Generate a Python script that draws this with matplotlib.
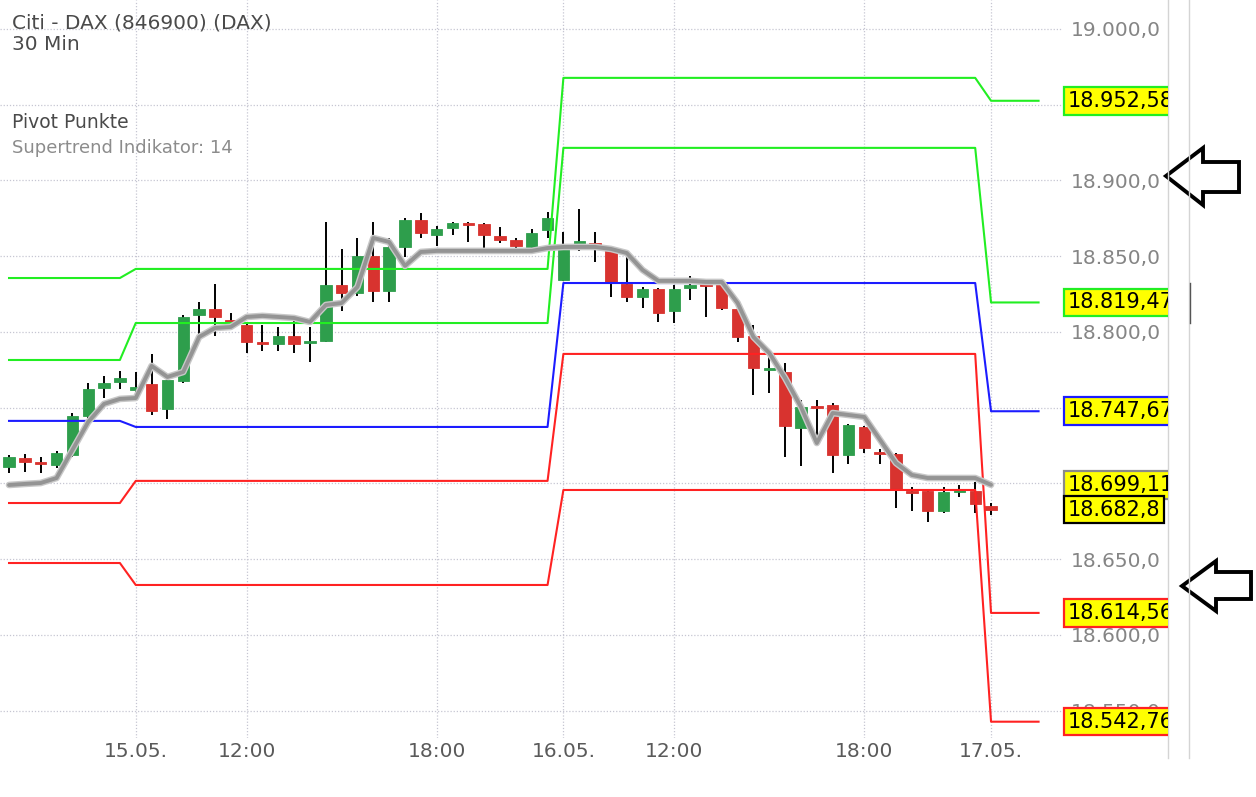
import matplotlib
matplotlib.use('Agg')

import matplotlib.pyplot as plt
import matplotlib.ticker as ticker
import numpy as np
from matplotlib.lines import Line2D
from matplotlib.patches import Polygon
from matplotlib.transforms import (Affine2D, Bbox, TransformedBbox,
                                   ScaledTranslation, blended_transform_factory)

plt.rcParams['font.family'] = ['DejaVu Sans']

W, H = 1256, 797

title = 'Citi - DAX (846900) (DAX)'
interval = '30 Min'
indicators = ['Pivot Punkte', 'Supertrend Indikator: 14']

# 30 min candles (14.05. late session -> 17.05. first bar)
opens = [18710.9, 18716.8, 18714.2, 18712.2, 18718.8, 18744.6, 18763.0, 18767.0, 18761.7, 18765.7,
         18749.2, 18767.7, 18811.2, 18815.2, 18807.9, 18804.6, 18793.4, 18792.1, 18797.4, 18792.7,
         18794.1, 18831.0, 18825.7, 18850.2, 18827.1, 18856.1, 18873.9, 18864.0, 18868.6, 18871.9,
         18871.3, 18863.4, 18860.7, 18856.1, 18867.3, 18834.3, 18856.8, 18858.7, 18854.8, 18831.7,
         18823.1, 18828.4, 18813.9, 18829.0, 18831.7, 18831.7, 18815.2, 18797.4, 18774.9, 18773.6,
         18736.6, 18751.2, 18751.8, 18718.8, 18737.3, 18720.8, 18719.5, 18695.0, 18695.0, 18681.8,
         18695.0, 18695.0, 18685.1]
highs = [18718.8, 18719.5, 18717.5, 18721.5, 18746.5, 18766.3, 18771.0, 18774.3, 18773.6, 18785.5,
         18770.3, 18811.2, 18819.8, 18831.7, 18812.5, 18805.5, 18804.6, 18803.3, 18810.6, 18803.3,
         18872.6, 18854.8, 18862.0, 18872.6, 18862.0, 18875.2, 18878.5, 18870.0, 18872.6, 18872.6,
         18872.0, 18869.3, 18862.0, 18868.0, 18879.2, 18866.0, 18881.2, 18866.0, 18855.5, 18852.8,
         18829.7, 18829.0, 18831.0, 18837.0, 18834.3, 18833.0, 18815.5, 18804.6, 18783.5, 18779.5,
         18755.1, 18755.1, 18753.1, 18739.2, 18737.8, 18722.8, 18720.0, 18697.7, 18695.5, 18697.7,
         18699.0, 18701.0, 18687.1]
lows = [18706.9, 18707.6, 18706.9, 18710.2, 18717.5, 18743.2, 18756.4, 18762.4, 18756.4, 18745.2,
        18742.6, 18766.3, 18798.7, 18797.4, 18802.6, 18786.1, 18787.5, 18787.5, 18786.1, 18780.2,
        18793.4, 18813.9, 18823.8, 18819.8, 18819.8, 18849.5, 18862.0, 18856.8, 18864.0, 18859.4,
        18853.5, 18858.7, 18852.8, 18852.8, 18862.0, 18833.7, 18853.5, 18846.2, 18823.1, 18819.8,
        18815.8, 18806.6, 18805.9, 18821.1, 18809.9, 18814.5, 18793.4, 18758.4, 18759.7, 18717.5,
        18711.6, 18726.7, 18706.9, 18712.9, 18720.1, 18712.9, 18683.8, 18681.8, 18674.6, 18680.5,
        18691.1, 18680.5, 18679.2]
closes = [18717.5, 18714.2, 18712.9, 18720.1, 18744.6, 18762.4, 18766.3, 18769.6, 18763.7, 18747.9,
          18768.3, 18809.9, 18815.2, 18809.9, 18806.6, 18793.4, 18792.1, 18797.4, 18792.1, 18794.1,
          18831.0, 18825.7, 18850.2, 18827.1, 18856.1, 18873.9, 18865.3, 18868.0, 18871.9, 18870.6,
          18864.0, 18860.7, 18856.8, 18865.3, 18875.2, 18856.1, 18860.1, 18856.8, 18833.0, 18823.1,
          18828.4, 18812.5, 18828.4, 18831.0, 18830.4, 18815.8, 18796.7, 18776.2, 18776.2, 18738.0,
          18750.5, 18749.8, 18718.8, 18738.6, 18723.4, 18719.5, 18696.4, 18693.7, 18681.8, 18694.4,
          18695.7, 18686.5, 18682.8]
supertrend = [18699.0, 18699.7, 18700.3, 18703.6, 18722.1, 18740.6, 18752.5, 18755.8, 18756.4, 18777.6,
              18770.3, 18773.6, 18796.7, 18802.6, 18803.3, 18809.9, 18810.6, 18809.9, 18809.2, 18806.6,
              18817.8, 18819.1, 18829.7, 18862.0, 18859.4, 18843.6, 18852.8, 18853.5, 18853.5, 18853.5,
              18853.5, 18853.5, 18853.5, 18853.5, 18855.4, 18856.1, 18856.1, 18856.1, 18854.8, 18852.1,
              18840.9, 18833.7, 18833.7, 18833.7, 18833.0, 18833.0, 18819.1, 18796.7, 18786.1, 18769.6,
              18750.5, 18726.7, 18746.5, 18745.2, 18743.9, 18728.7, 18713.5, 18705.6, 18703.6, 18703.6,
              18703.6, 18703.6, 18699.11]

# daily pivot levels, one value per day segment
day_start = [0, 8, 35, 62]
day_end = [7, 34, 61, 65]
r2 = [18835.6, 18841.6, 18967.7, 18952.58]
r1 = [18781.5, 18805.9, 18921.5, 18819.47]
pp = [18741.3, 18737.3, 18832.3, 18747.67]
s1 = [18687.1, 18701.7, 18785.5, 18614.56]
s2 = [18647.5, 18633.0, 18695.7, 18542.76]

tick_pos = [8, 15, 27, 35, 42, 54, 62]
tick_labels = ['15.05.', '12:00', '18:00', '16.05.', '12:00', '18:00', '17.05.']

GREEN_LINE = '#22ee22'
BLUE_LINE = '#1c1cff'
RED_LINE = '#ff2222'
UP = '#2e9e4c'
DOWN = '#d8332f'


def de_fmt(v, decimals=None):
    s = f'{v:,.{decimals}f}' if decimals is not None else f'{v:,}'
    return s.replace(',', 'X').replace('.', ',').replace('X', '.')


idx = np.arange(len(closes))
o = np.array(opens)
c = np.array(closes)
hi = np.array(highs)
lo = np.array(lows)

fig = plt.figure(figsize=(W / 100, H / 100), dpi=100)
ax = fig.add_axes([0, 59 / H, 1062 / W, 738 / H])
ax.set_xlim(-0.57, 66.48)
ax.set_ylim(18532.0, 19019.1)
for s in ax.spines.values():
    s.set_visible(False)

ax.set_yticks(np.arange(18550, 19001, 50))
ax.yaxis.tick_right()
ax.yaxis.set_major_formatter(ticker.FuncFormatter(lambda v, p: de_fmt(v, 1)))
ax.tick_params(axis='y', length=0, pad=6, labelsize=14.5, labelcolor='#858585')
ax.set_xticks(tick_pos)
ax.set_xticklabels(tick_labels)
ax.tick_params(axis='x', length=0, pad=3, labelsize=14.5, labelcolor='#5a5a5a')
ax.grid(True, color='#c6c6d2', linestyle=(0, (1, 1.5)), linewidth=0.9)
ax.set_axisbelow(True)

# candles
ax.vlines(idx, lo, hi, color='black', linewidth=1.4, zorder=2)
size = np.abs(c - o)
mid = (o + c) / 2
body_h = np.maximum(size, 1.5)
body_b = np.where(size < 1.5, mid - 0.75, np.minimum(o, c))
cols = np.where(c >= o, UP, DOWN)
ax.bar(idx, body_h, bottom=body_b, width=0.72, color=cols, edgecolor=cols,
       linewidth=0.6, zorder=3)

# pivot points
px = np.ravel(np.column_stack([day_start, day_end]))
for levels, col in zip([r2, r1, pp, s1, s2],
                       [GREEN_LINE, GREEN_LINE, BLUE_LINE, RED_LINE, RED_LINE]):
    ax.plot(px, np.repeat(levels, 2), color=col, linewidth=1.5, zorder=4)

# supertrend
ax.plot(idx, supertrend, color='#c8c8c8', linewidth=4.8, zorder=5, solid_capstyle='round')
ax.plot(idx, supertrend, color='#949494', linewidth=2.8, zorder=6, solid_capstyle='round')

# price boxes on the right, cut off at the chart frame
box_vals = [r2[-1], r1[-1], pp[-1], supertrend[-1], closes[-1], s1[-1], s2[-1]]
box_edges = [GREEN_LINE, GREEN_LINE, BLUE_LINE, '#8a8a8a', 'black', RED_LINE, RED_LINE]
clipbox = TransformedBbox(Bbox.from_extents(0, 0, 1168 / W, 1), fig.transFigure)
box_tr = blended_transform_factory(ax.transAxes, ax.transData) + \
    ScaledTranslation(6 / 100, 0, fig.dpi_scale_trans)
for v, ec in zip(box_vals, box_edges):
    t = fig.text(1.0, v, de_fmt(v), transform=box_tr, ha='left', va='center',
                 fontsize=15, color='black', zorder=5,
                 bbox=dict(boxstyle='square,pad=0.18', facecolor='#ffff00',
                           edgecolor=ec, linewidth=1.6))
    t.set_clip_box(clipbox)
    t.set_clip_on(True)

# header texts
pix = Affine2D().scale(1 / W, -1 / H).translate(0, 1) + fig.transFigure
fig.text(12, 23, title, transform=pix, fontsize=14.5, color='#4a4a4a', va='center')
fig.text(12, 44, interval, transform=pix, fontsize=14.5, color='#4a4a4a', va='center')
fig.text(12, 122, indicators[0], transform=pix, fontsize=13.5, color='#4a4a4a', va='center')
fig.text(12, 148, indicators[1], transform=pix, fontsize=13, color='#8c8c8c', va='center')

# frame lines on the right
fig.add_artist(Line2D([1168, 1168], [0, 758], transform=pix, color='#d4d4d4', linewidth=1))
fig.add_artist(Line2D([1189, 1189], [0, 758], transform=pix, color='#d4d4d4', linewidth=1))
fig.add_artist(Line2D([1190, 1190], [283, 323], transform=pix, color='#555555', linewidth=1))

# hand drawn arrows
arrow1 = [(1166, 176), (1203, 148), (1203, 162), (1239, 162), (1239, 192), (1203, 192), (1203, 205)]
arrow2 = [(1182, 586), (1216, 561), (1216, 572), (1251, 572), (1251, 599), (1216, 599), (1216, 611)]
for pts in [arrow1, arrow2]:
    fig.add_artist(Polygon(pts, closed=True, transform=pix, facecolor='white',
                           edgecolor='black', linewidth=2.8, joinstyle='miter'))

plt.savefig('out.png', dpi=100)
